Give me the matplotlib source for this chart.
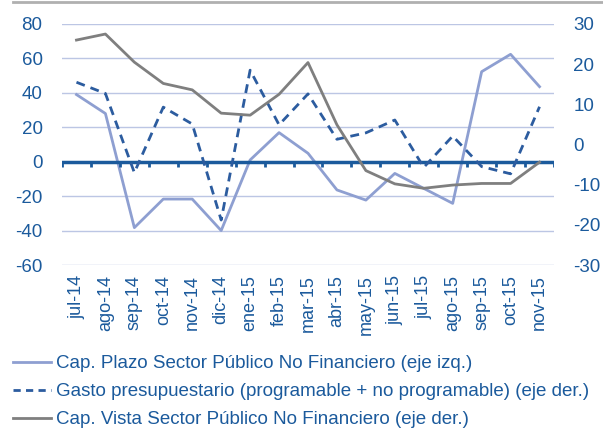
import matplotlib
matplotlib.use("Agg")
import matplotlib.pyplot as plt
import numpy as np
from matplotlib.lines import Line2D

plt.rcParams['font.family'] = ['Liberation Sans', 'DejaVu Sans']

months = ["jul-14", "ago-14", "sep-14", "oct-14", "nov-14", "dic-14", "ene-15", "feb-15",
          "mar-15", "abr-15", "may-15", "jun-15", "jul-15", "ago-15", "sep-15", "oct-15", "nov-15"]
cap_plazo = [39, 28, -38.3, -21.7, -21.7, -40, 1, 16.9, 4.9, -16.4, -22.3, -6.8, -15.5, -24.2, 52.3, 62.4, 43.6]
gasto = [15.5, 12.7, -7.0, 9.3, 5.1, -18.8, 18.5, 4.9, 12.6, 1.3, 2.9, 6.1, -5.7, 2.1, -5.5, -7.3, 9.4]
cap_vista = [26.0, 27.5, 20.5, 15.2, 13.6, 7.8, 7.3, 12.5, 20.4, 4.9, -6.5, -9.8, -10.9, -10.1, -9.7, -9.7, -4.4]

left_ticks = [80, 60, 40, 20, 0, -20, -40, -60]
right_ticks = [30, 20, 10, 0, -10, -20, -30]

c_text = '#1B5A9C'
c_plazo = '#8E9FD1'
c_gasto = '#2C5C9F'
c_vista = '#7F7F7F'
c_grid = '#BCC6E4'
c_axis = '#1B5A9C'

W, H = 603, 437
fig = plt.figure(figsize=(W/100, H/100), dpi=100)
ax = fig.add_axes([62/W, 1-265/H, (554-62)/W, (265-24)/H])
ax2 = ax.twinx()

x = np.arange(len(months))
ax.set_xlim(-0.5, len(months)-0.5)
ax.set_ylim(-60, 80)
ax2.set_ylim(-30, 30)

for t in left_ticks:
    if t != 0:
        ax.axhline(t, color=c_grid, lw=1.0, zorder=1)

ax.plot(x, cap_plazo, color=c_plazo, lw=2.0, zorder=3)
ax2.plot(x, gasto, color=c_gasto, lw=2.0, ls=(0, (3.2, 2.2)), zorder=3)
ax2.plot(x, cap_vista, color=c_vista, lw=2.0, zorder=3)

ax.axhline(0, color=c_axis, lw=2.5, zorder=4)
bounds = np.arange(-0.5, len(months), 1.0)
ax.vlines(bounds, -3.0, 0, color=c_axis, lw=2.0, zorder=4)

for a in (ax, ax2):
    for s in a.spines.values():
        s.set_visible(False)

ax.set_yticks(left_ticks)
ax.set_yticklabels([str(t) for t in left_ticks])
ax2.set_yticks(right_ticks)
ax2.set_yticklabels([str(t) for t in right_ticks])
ax.tick_params(axis='y', length=0, pad=14, labelsize=13.5, labelcolor=c_text)
ax2.tick_params(axis='y', length=0, pad=14, labelsize=13.5, labelcolor=c_text)

ax.set_xticks(x)
ax.set_xticklabels(months, rotation=90)
ax.tick_params(axis='x', length=0, pad=7, labelsize=13, labelcolor=c_text)

handles = [Line2D([], [], color=c_plazo, lw=2.0),
           Line2D([], [], color=c_gasto, lw=2.0, ls=(0, (2.6, 1.9))),
           Line2D([], [], color=c_vista, lw=2.0)]
labels = ["Cap. Plazo Sector Público No Financiero (eje izq.)",
          "Gasto presupuestario (programable + no programable) (eje der.)",
          "Cap. Vista Sector Público No Financiero (eje der.)"]
leg = fig.legend(handles, labels, loc='upper left', bbox_to_anchor=(13/W, 1-355/H),
                 frameon=False, fontsize=13.5, handlelength=2.0, handletextpad=0.27,
                 labelspacing=0.58, borderaxespad=0.0, borderpad=0.0)
for t in leg.get_texts():
    t.set_color(c_text)

fig.add_artist(Line2D([13/W, 1.0], [1-1.5/H, 1-1.5/H], color='#B0B0B0', lw=2.0, transform=fig.transFigure))

fig.savefig("out.png", dpi=100)
